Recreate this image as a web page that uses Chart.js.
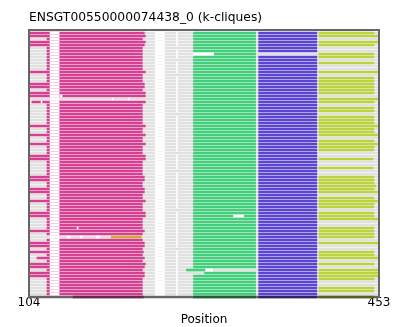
<!DOCTYPE html>
<html>
<head>
<meta charset="utf-8">
<script src="https://cdn.jsdelivr.net/npm/chart.js@4/dist/chart.umd.min.js"></script>
<style>
  html, body { margin: 0; padding: 0; background: #ffffff; }
  canvas { display: block; }
</style>
</head>
<body>
<canvas id="chart" width="409" height="327"></canvas>
<script>
// Title and axis labelling
const chartTitle = 'ENSGT00550000074438_0 (k-cliques)';
const xAxisTitle = 'Position';
const xTicks = [104, 453];

// One row per aligned sequence, top to bottom (row 88 is the consensus row on the lower edge)
const rowCount = 89;
const seqStart = 104;
const seqEnd = 453;

// Clique 1 (magenta) start / end per row, null where the row has no such clique
const magStart = [
  104, 104, 122, 104, 104, 122, 122, 122, 122, 122,
  122, 122, 122, 104, 122, 122, 122, 104, 104, 122,
  104, 104, null, 107, 122, 122, 122, 122, 122, 122,
  122, 104, 122, 122, 104, 122, 122, 104, 122, 122,
  122, 104, 104, 122, 122, 122, 122, 122, 104, 104,
  122, 122, 104, 104, 122, 122, 104, 122, 122, 122,
  104, 104, 122, 122, 122, 122, 104, 122, null, 122,
  104, 104, 122, 104, 122, 112, 122, 104, 104, 122,
  104, 104, 122, 122, 122, 122, 122, 122, 148
];
const magEnd = [
  219, 220, 217, 220, 219, 217, 217, 217, 217, 217,
  217, 217, 217, 220, 217, 217, 217, 219, 219, 217,
  220, 220, null, 220, 217, 217, 217, 217, 217, 217,
  217, 220, 217, 217, 220, 217, 217, 220, 217, 217,
  217, 220, 220, 217, 217, 217, 217, 217, 219, 219,
  217, 217, 219, 219, 217, 217, 220, 217, 217, 217,
  220, 220, 217, 217, 217, 217, 219, 217, null, 217,
  219, 219, 217, 218, 217, 219, 217, 220, 219, 217,
  219, 219, 217, 217, 217, 217, 217, 217, 218
];

// Alternative clique occurrence (gold)
const goldRows = [68];
const goldStart = [186];
const goldEnd = [216];

// Clique 2 (green)
const greenStart = [
  268, 268, 268, 268, 268, 268, 268, 288, 268, 268,
  268, 268, 268, 268, 268, 268, 268, 268, 268, 268,
  268, 268, 268, 268, 268, 268, 268, 268, 268, 268,
  268, 268, 268, 268, 268, 268, 268, 268, 268, 268,
  268, 268, 268, 268, 268, 268, 268, 268, 268, 268,
  268, 268, 268, 268, 268, 268, 268, 268, 268, 268,
  268, 268, 268, 268, 268, 268, 268, 268, 268, 268,
  268, 268, 268, 268, 268, 268, 268, 268, 268, 261,
  279, 268, 268, 268, 268, 268, 268, 268, 268
];
const greenEnd = [
  330, 330, 330, 330, 330, 330, 330, 330, 330, 330,
  330, 330, 330, 330, 330, 330, 330, 330, 330, 330,
  330, 330, 330, 330, 330, 330, 330, 330, 330, 330,
  330, 330, 330, 330, 330, 330, 330, 330, 330, 330,
  330, 330, 330, 330, 330, 330, 330, 330, 330, 330,
  330, 330, 330, 330, 330, 330, 330, 330, 330, 330,
  330, 330, 330, 330, 330, 330, 330, 330, 330, 330,
  330, 330, 330, 330, 330, 330, 330, 330, 330, 280,
  330, 330, 330, 330, 330, 330, 330, 330, 330
];

// Clique 3 (purple); row 7 lacks it
const purpleStart = [
  333, 333, 333, 333, 333, 333, 333, null, 333, 333,
  333, 333, 333, 333, 333, 333, 333, 333, 333, 333,
  333, 333, 333, 333, 333, 333, 333, 333, 333, 333,
  333, 333, 333, 333, 333, 333, 333, 333, 333, 333,
  333, 333, 333, 333, 333, 333, 333, 333, 333, 333,
  333, 333, 333, 333, 333, 333, 333, 333, 333, 333,
  333, 333, 333, 333, 333, 333, 333, 333, 333, 333,
  333, 333, 333, 333, 333, 333, 333, 333, 333, 333,
  333, 333, 333, 333, 333, 333, 333, 333, 333
];
const purpleEnd = [
  391, 391, 391, 391, 391, 391, 391, null, 391, 391,
  391, 391, 391, 391, 391, 391, 391, 391, 391, 391,
  391, 391, 391, 391, 391, 391, 391, 391, 391, 391,
  391, 391, 391, 391, 391, 391, 391, 391, 391, 391,
  391, 391, 391, 391, 391, 391, 391, 391, 391, 391,
  391, 391, 391, 391, 391, 391, 391, 391, 391, 391,
  391, 391, 391, 391, 391, 391, 391, 391, 391, 391,
  391, 391, 391, 391, 391, 391, 391, 391, 391, 391,
  391, 391, 391, 391, 391, 391, 391, 391, 391
];

// Clique 4 (yellow-green), null where absent
const yelStart = 393;
const yelEnd = [
  448, 453, null, 453, 448, null, null, 448, 448, null,
  448, null, null, 453, null, 448, 448, 448, 448, 448,
  448, null, 453, 448, null, 448, 448, null, 448, 448,
  448, 453, 448, 448, 453, null, 448, 453, 448, 448,
  null, null, 447, null, null, 447, null, null, 448, 448,
  448, 450, 448, 453, null, 448, 453, 448, 448, null,
  448, 448, 453, null, null, 448, 448, 448, 448, null,
  453, null, null, 448, 448, 453, null, 448, null, 453,
  453, 453, 448, null, null, 448, 448, null, 448
];

// Alignment gaps shared by most rows, with the rows that do not have them
const gapCols = [[125, 134], [230, 239], [251, 252]];
const gapMissing = [
  [88],
  [88],
  [5, 9, 14, 27, 40, 46, 59, 72, 88]
];
// Individual gaps: [row, start, end]
const extraGaps = [
  [7, 268, 288], [21, 135, 137], [22, 187, 188], [22, 203, 204],
  [23, 116, 117], [61, 308, 318], [65, 152, 153],
  [68, 142, 145], [68, 155, 157], [68, 171, 174], [79, 280, 287]
];

const consensusRow = 88;
const colors = {
  base: '#e1e1e1', magenta: '#d63f92', gold: '#d9a13d',
  green: '#41d07a', purple: '#5b45d1', yellow: '#bdd23f', gap: '#ffffff'
};
const darkColors = {
  base: '#666666', magenta: '#6d2650', gold: '#6d5020',
  green: '#215f38', purple: '#2d2769', yellow: '#596024', gap: '#666666'
};

const seg = (row, s, e) => ({ x: [s, e], y: row });
const rows = Array.from({ length: rowCount }, (_, i) => i);

function layer(key, data) {
  return {
    data,
    backgroundColor: ctx => (ctx.raw && ctx.raw.y === consensusRow ? darkColors[key] : colors[key]),
    barThickness: 2,
    grouped: false,
    borderWidth: 0,
    borderSkipped: false,
    clip: false
  };
}

const gapData = [];
gapCols.forEach((g, k) => {
  rows.forEach(r => { if (!gapMissing[k].includes(r)) gapData.push(seg(r, g[0], g[1])); });
});
extraGaps.forEach(g => gapData.push(seg(g[0], g[1], g[2])));

// First dataset is painted last (on top)
const datasets = [
  layer('gap', gapData),
  layer('yellow', rows.filter(r => yelEnd[r] !== null).map(r => seg(r, yelStart, yelEnd[r]))),
  layer('purple', rows.filter(r => purpleStart[r] !== null).map(r => seg(r, purpleStart[r], purpleEnd[r]))),
  layer('green', rows.map(r => seg(r, greenStart[r], greenEnd[r]))),
  layer('gold', goldRows.map((r, i) => seg(r, goldStart[i], goldEnd[i]))),
  layer('magenta', rows.filter(r => magStart[r] !== null).map(r => seg(r, magStart[r], magEnd[r]))),
  layer('base', rows.map(r => seg(r, seqStart, seqEnd)))
];

// Axes frame: left/top/right drawn over the rows; the lower edge sits under the consensus row
const framePlugin = {
  id: 'frame',
  beforeDatasetsDraw(chart) {
    const { ctx, chartArea: a } = chart;
    ctx.save();
    ctx.strokeStyle = '#666666';
    ctx.lineWidth = 2;
    ctx.beginPath();
    ctx.moveTo(a.left, a.bottom);
    ctx.lineTo(a.right, a.bottom);
    ctx.stroke();
    ctx.restore();
  },
  afterDatasetsDraw(chart) {
    const { ctx, chartArea: a } = chart;
    ctx.save();
    ctx.strokeStyle = '#666666';
    ctx.lineWidth = 2;
    ctx.beginPath();
    ctx.moveTo(a.left, a.bottom + 1);
    ctx.lineTo(a.left, a.top);
    ctx.lineTo(a.right, a.top);
    ctx.lineTo(a.right, a.bottom + 1);
    ctx.stroke();
    ctx.restore();
  }
};

const font = { family: 'DejaVu Sans', size: 12, weight: 'normal' };

new Chart(document.getElementById('chart'), {
  type: 'bar',
  data: { datasets },
  options: {
    indexAxis: 'y',
    responsive: false,
    animation: false,
    devicePixelRatio: 1,
    layout: { padding: { left: 29, right: 30, top: 0, bottom: 0 } },
    plugins: {
      legend: { display: false },
      tooltip: { enabled: false },
      title: {
        display: true, text: chartTitle, align: 'start', color: '#000000',
        font: { family: 'DejaVu Sans', size: 12.3, weight: 'normal' },
        padding: { top: 10, bottom: 5.24 }
      }
    },
    scales: {
      x: {
        type: 'linear', min: seqStart, max: seqEnd,
        afterBuildTicks: scale => { scale.ticks = xTicks.map(v => ({ value: v })); },
        grid: { display: false, drawTicks: false },
        border: { display: false },
        ticks: { padding: -1, color: '#000000', font, maxRotation: 0, autoSkip: false },
        title: { display: true, text: xAxisTitle, color: '#000000', font, padding: { top: 3.2, bottom: 0 } }
      },
      y: { type: 'linear', display: false, reverse: true, offset: false, min: -1, max: consensusRow }
    }
  },
  plugins: [framePlugin]
});
</script>
</body>
</html>
